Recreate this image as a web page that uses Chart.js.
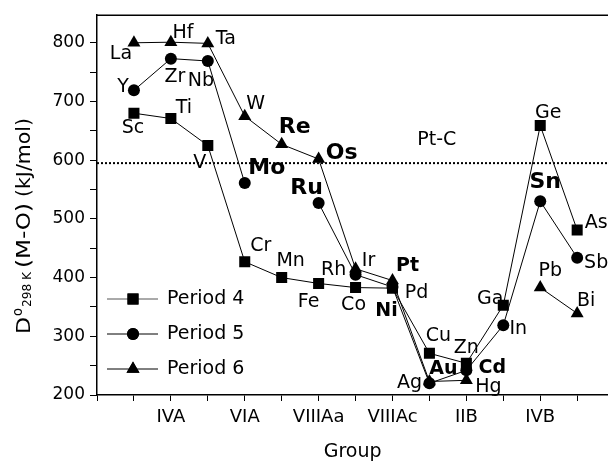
<!DOCTYPE html>
<html>
<head>
<meta charset="utf-8">
<script src="https://cdn.jsdelivr.net/npm/chart.js@4.4.1/dist/chart.umd.min.js"></script>
<style>
  html, body { margin: 0; padding: 0; background: #fff; overflow: hidden; }
  #wrap { width: 608px; height: 463px; position: relative; overflow: hidden; }
  #c { display: block; }
</style>
</head>
<body>
<div id="wrap"><canvas id="c" width="616" height="463"></canvas></div>
<script>
// ---- data ----
const groupPositions = [1, 2, 3, 4, 5, 6, 7, 8, 9, 10, 11, 12, 13];
const groupTickLabels = { 2: 'IVA', 4: 'VIA', 6: 'VIIIAa', 8: 'VIIIAc', 10: 'IIB', 12: 'IVB' };

const period4Names  = ['Sc', 'Ti', 'V', 'Cr', 'Mn', 'Fe', 'Co', 'Ni', 'Cu', 'Zn', 'Ga', 'Ge', 'As'];
const period4Values = [680, 671, 625, 427, 400, 390, 383, 382, 271, 254, 353, 659, 481];

const period5Names  = ['Y', 'Zr', 'Nb', 'Mo', null, 'Ru', 'Rh', 'Pd', 'Ag', 'Cd', 'In', 'Sn', 'Sb'];
const period5Values = [719, 773, 769, 561, null, 527, 405, 384, 220, 242, 319, 530, 434];

const period6Names  = ['La', 'Hf', 'Ta', 'W', 'Re', 'Os', 'Ir', 'Pt', 'Au', 'Hg', null, 'Pb', 'Bi'];
const period6Values = [800, 801, 799, 675, 627, 602, 415, 395, 223, 225, null, 383, 339];

const ptcValue = 595;
const ptcLabel = 'Pt-C';
const seriesNames = ['Period 4', 'Period 5', 'Period 6'];

// ---- label styling (pixel offsets from each point) ----
const labelOffsets = {
  La: [-13, 11], Hf: [12, -9], Ta: [18, -4], Y: [-11, -3], Zr: [4, 18], Nb: [-7, 20],
  Sc: [-1, 15], Ti: [13, -10], V: [-8, 18], W: [11, -12], Re: [13, -17], Mo: [22, -15],
  Os: [23, -6], Ru: [-12, -15], Ge: [8, -12], Sn: [5, -19], As: [19, -7], Sb: [19, 5],
  Pb: [10, -17], Bi: [9, -12], Cr: [16, -16], Mn: [9, -17], Fe: [-10, 19], Rh: [-22, -5],
  Ir: [13, -8], Co: [-2, 17], Ni: [-6, 23], Pt: [15, -14], Pd: [24, 6], Cu: [9, -17],
  Zn: [0, -15], Au: [14, -12], Cd: [26, -2], Ag: [-20, 0], Hg: [22, 7], Ga: [-13, -6],
  In: [15, 4]
};
const bigBold = ['Re', 'Os', 'Mo', 'Ru', 'Sn'];
const midBold = ['Ni', 'Pt', 'Cd', 'Au'];
const FONT = '"DejaVu Sans", "Liberation Sans", Arial, sans-serif';

function toPoints(vals) {
  return vals.map((v, i) => ({ x: groupPositions[i], y: v }));
}

const namesBySeries = [period4Names, period5Names, period6Names];

// y-axis title pieces: [text, font, from screen y (bottom), to screen y (top), baseline shift]
const yTitleParts = [
  ['D', '20px ' + FONT, 334, 317, 0],
  ['o', '14px ' + FONT, 316, 308, -8],
  ['298 K', '13px ' + FONT, 307, 272, 1],
  ['(M-O)', '20px ' + FONT, 268, 203, 0],
  ['(kJ/mol)', '20px ' + FONT, 197, 118, 0]
];

const overlayPlugin = {
  id: 'overlay',
  beforeDatasetsDraw(chart) {
    const ctx = chart.ctx, ca = chart.chartArea;
    const ys = chart.scales.y, xs = chart.scales.x;
    ctx.save();
    ctx.strokeStyle = '#000';
    ctx.lineWidth = 1.5;
    ctx.beginPath();
    ctx.moveTo(ca.left, ca.top);
    ctx.lineTo(ca.right, ca.top);
    ctx.stroke();
    const py = ys.getPixelForValue(ptcValue);
    ctx.lineWidth = 2;
    ctx.setLineDash([2, 2]);
    ctx.beginPath();
    ctx.moveTo(ca.left, py);
    ctx.lineTo(ca.right, py);
    ctx.stroke();
    ctx.setLineDash([]);
    ctx.fillStyle = '#000';
    ctx.font = '19px ' + FONT;
    ctx.textAlign = 'center';
    ctx.textBaseline = 'middle';
    ctx.fillText(ptcLabel, xs.getPixelForValue(9.2), py - 23);
    ctx.restore();
  },
  afterDatasetsDraw(chart) {
    const ctx = chart.ctx;
    ctx.save();
    ctx.fillStyle = '#000';
    ctx.textBaseline = 'middle';
    chart.data.datasets.forEach((ds, di) => {
      const meta = chart.getDatasetMeta(di);
      const names = namesBySeries[di];
      meta.data.forEach((el, i) => {
        const n = names[i];
        if (!n || ds.data[i].y == null) return;
        const off = labelOffsets[n] || [10, -10];
        if (bigBold.includes(n)) ctx.font = 'bold 22px ' + FONT;
        else if (midBold.includes(n)) ctx.font = 'bold 19px ' + FONT;
        else ctx.font = '19px ' + FONT;
        ctx.textAlign = 'center';
        ctx.fillText(n, el.x + off[0], el.y + off[1]);
      });
    });
    // legend
    const ca = chart.chartArea;
    const lx0 = ca.left + 10, lx1 = ca.left + 61, mx = ca.left + 36, tx = ca.left + 70;
    const ly0 = 299, step = 35;
    chart.data.datasets.forEach((ds, di) => {
      const y = ly0 + di * step;
      ctx.strokeStyle = di === 0 ? '#555' : '#000';
      ctx.lineWidth = 1;
      ctx.beginPath();
      ctx.moveTo(lx0, y);
      ctx.lineTo(lx1, y);
      ctx.stroke();
      Chart.helpers.drawPoint(ctx, { pointStyle: ds.pointStyle, radius: ds.pointRadius, rotation: 0, borderWidth: 0 }, mx, y);
      ctx.fillStyle = '#000';
      ctx.fill();
      ctx.font = '19px ' + FONT;
      ctx.textAlign = 'left';
      ctx.fillText(seriesNames[di], tx, y);
    });
    ctx.restore();
    // y axis title (rotated, each piece stretched to its span)
    ctx.save();
    ctx.fillStyle = '#000';
    ctx.textAlign = 'left';
    ctx.textBaseline = 'alphabetic';
    const baseX = 30;
    yTitleParts.forEach(p => {
      ctx.save();
      ctx.font = p[1];
      const w = ctx.measureText(p[0]).width;
      const span = p[2] - p[3];
      ctx.translate(baseX + p[4], p[2]);
      ctx.rotate(-Math.PI / 2);
      ctx.scale(span / w, 1);
      ctx.fillText(p[0], 0, 0);
      ctx.restore();
    });
    ctx.restore();
  }
};

const common = {
  borderColor: '#000',
  backgroundColor: '#000',
  pointBackgroundColor: '#000',
  pointBorderColor: '#000',
  borderWidth: 1,
  pointBorderWidth: 0,
  spanGaps: false,
  tension: 0
};

new Chart(document.getElementById('c'), {
  type: 'line',
  data: {
    datasets: [
      Object.assign({ label: seriesNames[0], data: toPoints(period4Values), pointStyle: 'rect', pointRadius: 7.8 }, common),
      Object.assign({ label: seriesNames[1], data: toPoints(period5Values), pointStyle: 'circle', pointRadius: 6 }, common),
      Object.assign({ label: seriesNames[2], data: toPoints(period6Values), pointStyle: 'triangle', pointRadius: 7.5 }, common)
    ]
  },
  options: {
    responsive: false,
    animation: false,
    events: [],
    layout: { padding: { top: 13, left: 0, right: 0, bottom: 0 } },
    plugins: { legend: { display: false }, tooltip: { enabled: false } },
    scales: {
      x: {
        type: 'linear',
        min: 0,
        max: 13.84,
        afterBuildTicks(scale) {
          scale.ticks = [0, ...groupPositions].map(v => ({ value: v }));
        },
        afterFit(scale) { scale.height = 68; },
        grid: { display: true, drawOnChartArea: false, drawTicks: true, tickLength: 6, tickColor: '#000', tickWidth: 1 },
        border: { display: true, color: '#000', width: 1.5 },
        ticks: {
          autoSkip: false,
          maxRotation: 0,
          padding: 6,
          color: '#000',
          font: { family: FONT, size: 18 },
          callback: v => groupTickLabels[v] || ''
        },
        title: {
          display: true,
          text: 'Group',
          color: '#000',
          font: { family: FONT, size: 19 },
          padding: { top: 14, bottom: 0 }
        }
      },
      y: {
        type: 'linear',
        min: 200,
        max: 847,
        afterBuildTicks(scale) {
          const t = [];
          for (let v = 200; v <= 800; v += 50) t.push({ value: v });
          scale.ticks = t;
        },
        afterFit(scale) { scale.width = 97; },
        grid: { display: true, drawOnChartArea: false, drawTicks: true, tickLength: 7, tickColor: '#000', tickWidth: 1 },
        border: { display: true, color: '#000', width: 1.5 },
        ticks: {
          autoSkip: false,
          padding: 5,
          color: '#000',
          font: { family: FONT, size: 17 },
          callback: v => (v % 100 === 0 ? String(v) : '')
        }
      }
    }
  },
  plugins: [overlayPlugin]
});
</script>
</body>
</html>
